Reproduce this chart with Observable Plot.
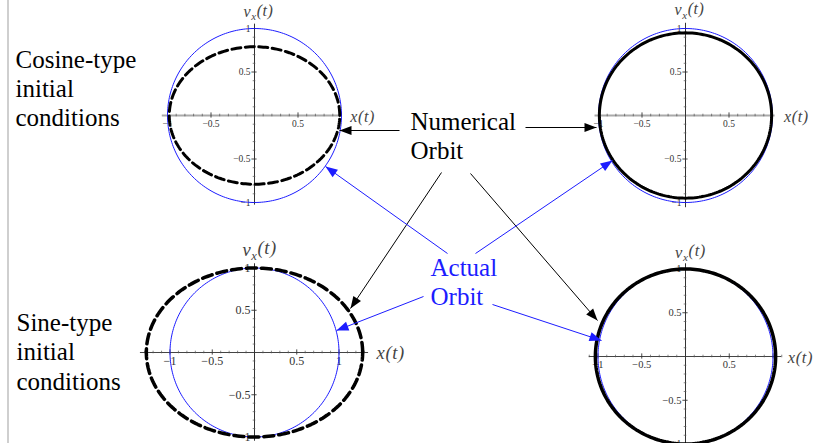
<!DOCTYPE html>
<html>
<head>
<meta charset="utf-8">
<script src="https://cdn.jsdelivr.net/npm/d3@7"></script>
<script src="https://cdn.jsdelivr.net/npm/@observablehq/plot@0.6"></script>
<style>
  html, body { margin: 0; padding: 0; background: #fff; }
  #page { position: relative; width: 820px; height: 443px; overflow: hidden; background: #fff; }
  #page svg { position: absolute; }
  #edge { position: absolute; left: 7px; top: 0; width: 2px; height: 443px; background: #cfcfcf; }
</style>
</head>
<body>
<div id="page"><div id="edge"></div></div>
<script>
// Phase-plane orbits (x, v_x) of the oscillator, one entry per panel:
// cosine start coarse step, cosine start fine step, sine start coarse step, sine start fine step
const panelNames = ["cosine-coarse", "cosine-fine", "sine-coarse", "sine-fine"];
const numericalHalfWidth  = [0.98, 0.99, 1.28, 1.03];
const numericalHalfHeight = [0.79, 0.95, 1.00, 1.00];
const actualRadius        = [1, 1, 1, 1];

// tick labels shown on each panel
const xTickLabels = [[-1, -0.5, 0.5], [-1, -0.5, 0.5], [-1, -0.5, 0.5, 1], [-1, -0.5, 0.5]];
const yTickLabels = [[1, 0.5, -0.5, -1], [1, 0.5, -0.5, -1], [1, 0.5, -0.5, -1], [1, 0.5, -0.5, -1]];

// text
const sideLabels = ["Cosine-type\ninitial\nconditions", "Sine-type\ninitial\nconditions"];
const calloutLabels = ["Numerical\nOrbit", "Actual\nOrbit"];

// ---- layout & style ----
const blue = "#1c1cff";
const serif = "Liberation Serif, Times New Roman, serif";
const HW = 150, HH = 130; // half size of each panel svg in px

const layout = [
  {cx: 254, cy: 115, s: 87,   xr: [-1.06, 1.01], yr: [-1.03, 1.05], axisColor: "#aaaaaa", axisWidth: 2,
   tickFont: 9.5, labelFont: 16, dash: "9,4.5", width: 3,   xlDx: 8, vlDx: 4, vlDy: -7},
  {cx: 685, cy: 115, s: 87,   xr: [-1.04, 1.03], yr: [-1.06, 1.06], axisColor: "#aaaaaa", axisWidth: 2,
   tickFont: 9.5, labelFont: 16, dash: null,      width: 3,   xlDx: 9, vlDx: 4, vlDy: -8},
  {cx: 254, cy: 352, s: 84.5, xr: [-1.35, 1.35], yr: [-1.05, 1.05], axisColor: "#444444", axisWidth: 1,
   tickFont: 12,  labelFont: 18.5, dash: "10,5",  width: 3.5, xlDx: 8, vlDx: 5, vlDy: -8},
  {cx: 685, cy: 356, s: 87.5, xr: [-1.1, 1.1],   yr: [-1.2, 1.06],  axisColor: "#444444", axisWidth: 1,
   tickFont: 10.5, labelFont: 16.5, dash: null,   width: 3.5, xlDx: 6, vlDx: 5, vlDy: -6}
];

const fmt = v => (v < 0 ? "\u2212" : "") + Math.abs(v);

function ellipse(a, b, n = 240) {
  return d3.range(n).map(i => {
    const t = (2 * Math.PI * i) / n;
    return {x: a * Math.cos(t), y: b * Math.sin(t)};
  });
}

const page = document.getElementById("page");

panelNames.forEach((name, i) => {
  const L = layout[i];
  const s = L.s;
  const inRange = (v, r) => v >= r[0] - 1e-9 && v <= r[1] + 1e-9;
  const steps = d3.range(-14, 15).map(k => k / 10).filter(v => v !== 0);
  const xMinor = steps.filter(v => inRange(v, L.xr) && Math.abs(v * 2 % 1) > 1e-6);
  const xMajor = steps.filter(v => inRange(v, L.xr) && Math.abs(v * 2 % 1) < 1e-6);
  const yMinor = steps.filter(v => inRange(v, L.yr) && Math.abs(v * 2 % 1) > 1e-6);
  const yMajor = steps.filter(v => inRange(v, L.yr) && Math.abs(v * 2 % 1) < 1e-6);

  const svg = Plot.plot({
    width: 2 * HW, height: 2 * HH,
    marginTop: 0, marginRight: 0, marginBottom: 0, marginLeft: 0,
    x: {domain: [-HW / s, HW / s], range: [0, 2 * HW]},
    y: {domain: [-HH / s, HH / s], range: [2 * HH, 0]},
    axis: null,
    style: {background: "transparent", overflow: "visible"},
    marks: [
      // axes through the origin
      Plot.ruleY([0], {x1: L.xr[0], x2: L.xr[1], stroke: L.axisColor, strokeWidth: L.axisWidth}),
      Plot.ruleX([0], {y1: L.yr[0], y2: L.yr[1], stroke: "#333", strokeWidth: 1}),
      // ticks
      Plot.ruleX(xMinor, {x: d => d, y1: -1.3 / s, y2: 1.3 / s, stroke: "#555", strokeWidth: 0.7}),
      Plot.ruleX(xMajor, {x: d => d, y1: -2.6 / s, y2: 2.6 / s, stroke: "#333", strokeWidth: 0.9}),
      Plot.ruleY(yMinor, {y: d => d, x1: -1.3 / s, x2: 1.3 / s, stroke: "#555", strokeWidth: 0.7}),
      Plot.ruleY(yMajor, {y: d => d, x1: -2.6 / s, x2: 2.6 / s, stroke: "#333", strokeWidth: 0.9}),
      // tick labels
      Plot.text(xTickLabels[i], {x: d => d, y: 0, text: fmt, dy: 8.5, fontSize: L.tickFont,
        fontFamily: serif, fill: "#333"}),
      Plot.text(yTickLabels[i], {x: 0, y: d => d, text: fmt, textAnchor: "end", dx: -4,
        fontSize: L.tickFont, fontFamily: serif, fill: "#333"}),
      // actual orbit (thin blue circle)
      Plot.line(ellipse(actualRadius[i], actualRadius[i]), {x: "x", y: "y", curve: "linear-closed",
        stroke: blue, strokeWidth: 1}),
      // numerical orbit
      Plot.line(ellipse(numericalHalfWidth[i], numericalHalfHeight[i]), {x: "x", y: "y",
        curve: "linear-closed", stroke: "#000", strokeWidth: L.width,
        strokeDasharray: L.dash ?? undefined}),
      // axis labels
      Plot.text([0], {x: L.xr[1], y: 0, text: () => "x(t)", textAnchor: "start", dx: L.xlDx,
        dy: 1, fontSize: L.labelFont, fontStyle: "italic", fontWeight: "normal", fontFamily: serif, fill: "#444"}),
      Plot.text([0], {x: 0, y: L.yr[1], text: () => "vx(t)", lineAnchor: "bottom", dx: L.vlDx,
        dy: L.vlDy, fontSize: L.labelFont, fontStyle: "italic", fontWeight: "normal", fontFamily: serif, fill: "#444"})
    ]
  });
  svg.style.left = (L.cx - HW) + "px";
  svg.style.top = (L.cy - HH) + "px";
  // axis label spacing and the subscript of v_x(t)
  d3.select(svg).selectAll("text")
    .filter(function () { return this.textContent === "x(t)" || this.textContent === "vx(t)"; })
    .attr("letter-spacing", "0.6px");
  d3.select(svg).selectAll("text").filter(function () { return this.textContent === "vx(t)"; })
    .each(function () {
      const t = d3.select(this);
      t.text("");
      t.append("tspan").text("v");
      t.append("tspan").attr("dy", "0.3em").attr("font-size", "0.68em").text("x");
      t.append("tspan").attr("dy", "-0.3em").text("(t)");
    });
  page.appendChild(svg);
});

// ---- callouts: page-space arrows and text ----
const arrows = [
  {x1: 399, y1: 130, x2: 339, y2: 130, c: "#000"},
  {x1: 525, y1: 127, x2: 596, y2: 127, c: "#000"},
  {x1: 441, y1: 172, x2: 350, y2: 308, c: "#000"},
  {x1: 470, y1: 173, x2: 597, y2: 320, c: "#000"},
  {x1: 447, y1: 253, x2: 325, y2: 166, c: blue},
  {x1: 475, y1: 253, x2: 612, y2: 160, c: blue},
  {x1: 423, y1: 296, x2: 336, y2: 330, c: blue},
  {x1: 492, y1: 304, x2: 601, y2: 340, c: blue}
];
const head = {
  draw(ctx) {
    ctx.moveTo(0, 0);
    ctx.lineTo(-4.6, 12);
    ctx.lineTo(4.6, 12);
    ctx.closePath();
  }
};
const textSpots = [
  {t: sideLabels[0], x: 15, y: 125, c: "#000", lh: 1.16},
  {t: sideLabels[1], x: 16, y: 389, c: "#000", lh: 1.18},
  {t: calloutLabels[0], x: 410, y: 158, c: "#000", lh: 1.16},
  {t: calloutLabels[1], x: 430, y: 304, c: blue, lh: 1.16}
];

const overlay = Plot.plot({
  width: 820, height: 443,
  marginTop: 0, marginRight: 0, marginBottom: 0, marginLeft: 0,
  x: {domain: [0, 820], range: [0, 820]},
  y: {domain: [0, 443], range: [0, 443]},
  axis: null,
  style: {background: "transparent", overflow: "visible"},
  marks: [
    Plot.link(arrows, {x1: "x1", y1: "y1", x2: "x2", y2: "y2", stroke: d => d.c, strokeWidth: 1}),
    Plot.dot(arrows, {x: "x2", y: "y2", symbol: head, fill: d => d.c, stroke: "none",
      rotate: d => Math.atan2(d.x2 - d.x1, -(d.y2 - d.y1)) * 180 / Math.PI}),
    ...textSpots.map(d => Plot.text([d], {x: "x", y: "y", text: "t", textAnchor: "start",
      lineAnchor: "bottom", lineHeight: d.lh, fontSize: 25, fontFamily: serif, fill: d.c}))
  ]
});
overlay.style.left = "0px";
overlay.style.top = "0px";
page.appendChild(overlay);
</script>
</body>
</html>
